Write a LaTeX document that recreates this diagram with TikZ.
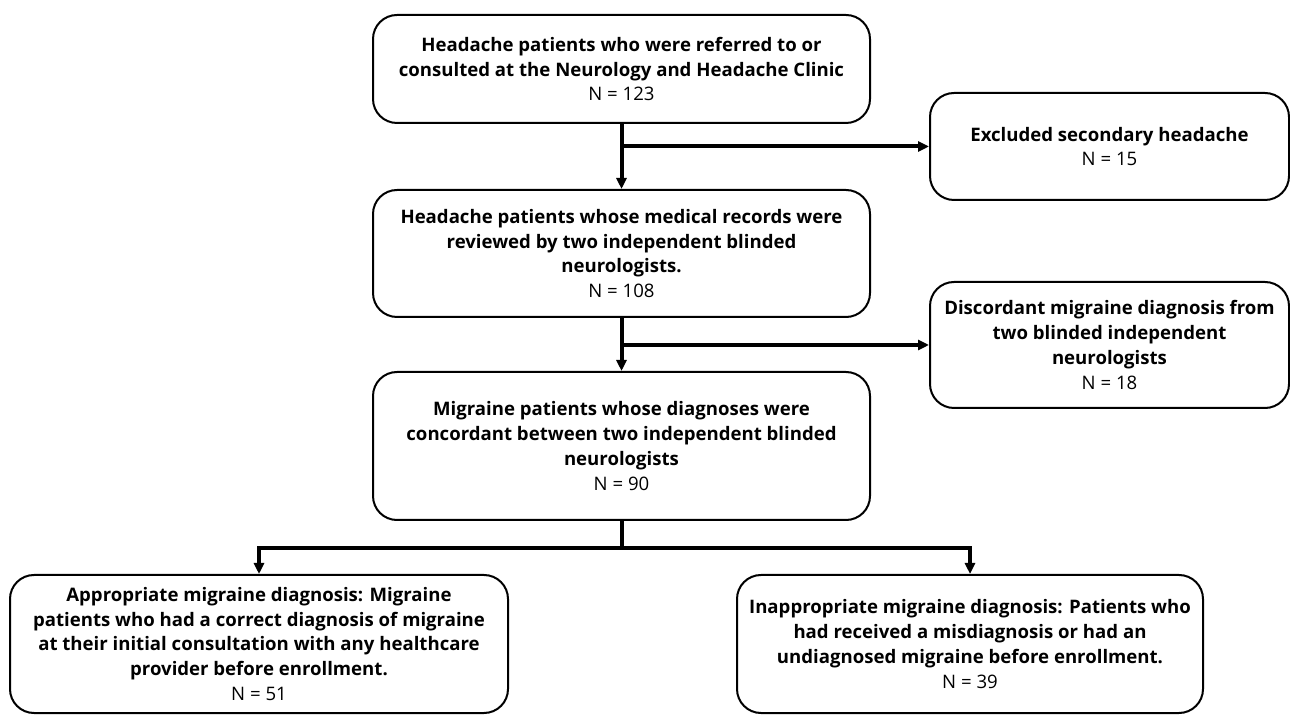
\documentclass[tikz,border=0pt]{standalone}
\usepackage{fontspec}
\setmainfont{Open Sans}
\usetikzlibrary{arrows.meta}

\begin{document}
\begin{tikzpicture}[x=0.5pt,y=-0.5pt,
    box/.style={draw, line width=1pt, rounded corners=12pt, align=center,
      inner sep=0pt, font=\fontsize{9.3}{12.4}\selectfont},
    link/.style={line width=2pt},
    arr/.style={link, -{Triangle[length=5.5pt,width=5pt]}}]
	%%%%% START %%%%%
	
	\useasboundingbox (0,0) rectangle (1290,715);
	
	% main column
	\node[box, minimum width=248.5pt, minimum height=54pt] (refer) at (621.5,69)
	  {\textbf{Headache patients who were referred to or}\\
	   \textbf{consulted at the Neurology and Headache Clinic}\\
	   N = 123};
	\node[box, minimum width=248.5pt, minimum height=63.5pt] (review) at (621.5,253.5)
	  {\textbf{Headache patients whose medical records were}\\
	   \textbf{reviewed by two independent blinded}\\
	   \textbf{neurologists.}\\
	   N = 108};
	\node[box, minimum width=248.5pt, minimum height=74pt] (concord) at (621.5,446)
	  {\textbf{Migraine patients whose diagnoses were}\\
	   \textbf{concordant between two independent blinded}\\
	   \textbf{neurologists}\\
	   N = 90};
	
	% exclusions
	\node[box, minimum width=179.5pt, minimum height=53.5pt] (secondary) at (1109.5,146.5)
	  {\textbf{Excluded secondary headache}\\
	   N = 15};
	\node[box, minimum width=179.5pt, minimum height=63pt] (discord) at (1109.5,345)
	  {\textbf{Discordant migraine diagnosis from}\\
	   \textbf{two blinded independent}\\
	   \textbf{neurologists}\\
	   N = 18};
	
	% outcome
	\node[box, minimum width=249pt, minimum height=69pt] (appropriate) at (259,644)
	  {\textbf{Appropriate migraine diagnosis: Migraine}\\
	   \textbf{patients who had a correct diagnosis of migraine}\\
	   \textbf{at their initial consultation with any healthcare}\\
	   \textbf{provider before enrollment.}\\
	   N = 51};
	\node[box, minimum width=233pt, minimum height=69pt] (inappropriate) at (970,644)
	  {\textbf{Inappropriate migraine diagnosis: Patients who}\\
	   \textbf{had received a misdiagnosis or had an}\\
	   \textbf{undiagnosed migraine before enrollment.}\\
	   N = 39};
	
	% connectors
	\coordinate (split1) at (refer.south |- secondary.west);
	\draw[arr] (refer.south) -- (review.north);
	\draw[arr] (split1) -- (secondary.west);
	
	\coordinate (split2) at (review.south |- discord.west);
	\draw[arr] (review.south) -- (concord.north);
	\draw[arr] (split2) -- (discord.west);
	
	\coordinate (split3) at ([yshift=-13.5pt]concord.south);
	\draw[link] (concord.south) -- (split3);
	\draw[arr] (split3) -| (appropriate.north);
	\draw[arr] (split3) -| (inappropriate.north);
	
	%%%%% END %%%%%
\end{tikzpicture}
\end{document}
